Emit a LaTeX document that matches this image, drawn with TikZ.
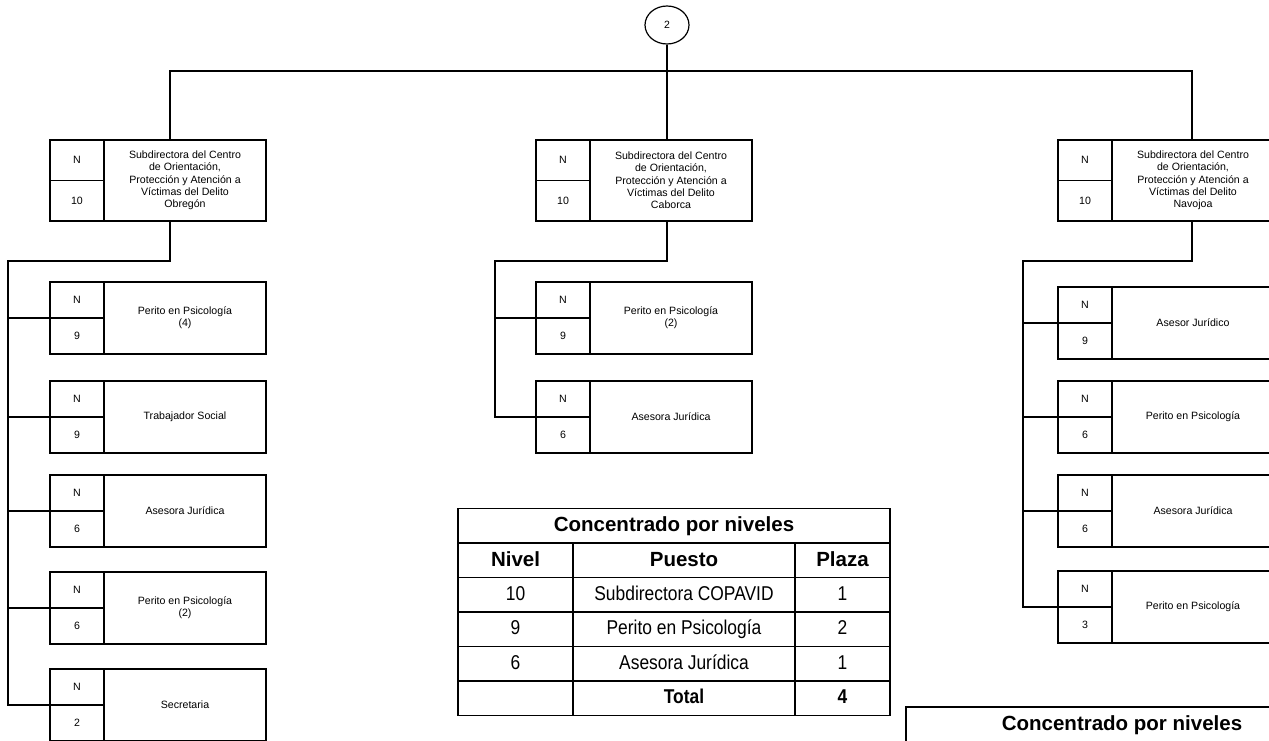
\documentclass[tikz,border=0pt]{standalone}
\usepackage{fontspec}
\setmainfont{Liberation Sans}
\newfontfamily\narrowfont[FakeStretch=0.87]{Liberation Sans}
\usetikzlibrary{shapes.geometric}

% puesto con casillas N / nivel a la izquierda
\newcommand{\jefa}[5]{%
  \node[nivelalto] (#1-n) at (#2+27,#3+20.25) {N};
  \node[nivelalto] (#1-v) at (#2+27,#3+60.75) {#4};
  \node[cargoalto] (#1) at (#2+135,#3+40.5) {#5};
}
\newcommand{\puesto}[5]{%
  \node[nivel] (#1-n) at (#2+27,#3+18) {N};
  \node[nivel] (#1-v) at (#2+27,#3+54) {#4};
  \node[cargo] (#1) at (#2+135,#3+36) {#5};
}

\begin{document}
\begin{tikzpicture}
  [
    x=1pt, y=-1pt,
    caja/.style = {draw, line width=1.3pt, inner sep=0pt, outer sep=0pt, align=center, font=\fontsize{10.6}{12.3}\selectfont},
    nivel/.style = {caja, minimum width=54, minimum height=36},
    nivelalto/.style = {caja, minimum width=54, minimum height=40.5},
    cargo/.style = {caja, minimum width=162, minimum height=72},
    cargoalto/.style = {caja, minimum width=162, minimum height=81},
    linea/.style = {line width=1.2pt},
    celda/.style = {draw, line width=1.3pt, inner sep=0pt, outer sep=0pt, minimum height=34.5, text height=15pt, text depth=4.3pt, font=\narrowfont\fontsize{20}{24}\selectfont},
    encab/.style = {celda, text height=16pt, text depth=4pt, font=\fontsize{20.5}{24}\selectfont\bfseries},
    total/.style = {celda, font=\narrowfont\fontsize{20}{24}\selectfont\bfseries},
    titulo/.style = {encab, text height=15.5pt, minimum width=432, minimum height=35},
  ]
  \useasboundingbox (0,0) rectangle (1269,741);

  \node[draw, ellipse, line width=1.2pt, minimum width=44, minimum height=38, inner sep=0pt, font=\fontsize{10.5}{12}\selectfont] (dos) at (667,25) {2};

  % subdirecciones
  \jefa{obregon}{50}{140}{10}{Subdirectora del Centro\\de Orientación,\\Protección y Atención a\\Víctimas del Delito\\Obregón}
  \jefa{caborca}{536}{140}{10}{Subdirectora del Centro\\de Orientación,\\Protección y Atención a\\Víctimas del Delito\\Caborca}
  \jefa{navojoa}{1058}{140}{10}{Subdirectora del Centro\\de Orientación,\\Protección y Atención a\\Víctimas del Delito\\Navojoa}

  % Obregon
  \puesto{o1}{50}{282}{9}{Perito en Psicología\\(4)}
  \puesto{o2}{50}{381}{9}{Trabajador Social}
  \puesto{o3}{50}{475}{6}{Asesora Jurídica}
  \puesto{o4}{50}{572}{6}{Perito en Psicología\\(2)}
  \puesto{o5}{50}{669}{2}{Secretaria}

  % Caborca
  \puesto{c1}{536}{282}{9}{Perito en Psicología\\(2)}
  \puesto{c2}{536}{381}{6}{Asesora Jurídica}

  % Navojoa
  \puesto{n1}{1058}{287}{9}{Asesor Jurídico}
  \puesto{n2}{1058}{381}{6}{Perito en Psicología}
  \puesto{n3}{1058}{475}{6}{Asesora Jurídica}
  \puesto{n4}{1058}{571}{3}{Perito en Psicología}

  % lineas
  \coordinate (hl) at (170,71);
  \coordinate (hr) at (1192,71);
  \coordinate (ol) at (8,261);
  \coordinate (cl) at (495,261);
  \coordinate (nl) at (1023,261);

  \draw[linea] (hl |- obregon.north) -- (hl) -- (hr) -- (hr |- navojoa.north);
  \draw[linea] (dos) -- (dos |- caborca.north);

  \draw[linea] (hl |- obregon.south) |- (ol) |- (o5-n.south west);
  \foreach \k in {o1,o2,o3,o4}
    \draw[linea] (ol |- \k-n.south west) -- (\k-n.south west);

  \draw[linea] (dos |- caborca.south) |- (cl) |- (c2-n.south west);
  \draw[linea] (cl |- c1-n.south west) -- (c1-n.south west);

  \draw[linea] (hr |- navojoa.south) |- (nl) |- (n4-n.south west);
  \foreach \k in {n1,n2,n3}
    \draw[linea] (nl |- \k-n.south west) -- (\k-n.south west);

  % concentrado
  \node[titulo] (tab) at (674,525.75) {Concentrado por niveles};
  \node[encab, minimum width=115] (h1) at (515.5,560.25) {Nivel};
  \node[encab, minimum width=222] (h2) at (684,560.25) {Puesto};
  \node[encab, minimum width=95] (h3) at (842.5,560.25) {Plaza};

  \node[celda, minimum width=115] (a1) at (515.5,594.75) {10};
  \node[celda, minimum width=222] (a2) at (684,594.75) {Subdirectora COPAVID};
  \node[celda, minimum width=95] (a3) at (842.5,594.75) {1};

  \node[celda, minimum width=115] (b1) at (515.5,629.25) {9};
  \node[celda, minimum width=222] (b2) at (684,629.25) {Perito en Psicología};
  \node[celda, minimum width=95] (b3) at (842.5,629.25) {2};

  \node[celda, minimum width=115] (d1) at (515.5,663.75) {6};
  \node[celda, minimum width=222] (d2) at (684,663.75) {Asesora Jurídica};
  \node[celda, minimum width=95] (d3) at (842.5,663.75) {1};

  \node[celda, minimum width=115] (t1) at (515.5,698.25) {};
  \node[total, minimum width=222] (t2) at (684,698.25) {Total};
  \node[total, minimum width=95] (t3) at (842.5,698.25) {4};

  \node[titulo, anchor=north west] (tab2) at (906,707) {Concentrado por niveles};
\end{tikzpicture}
\end{document}
